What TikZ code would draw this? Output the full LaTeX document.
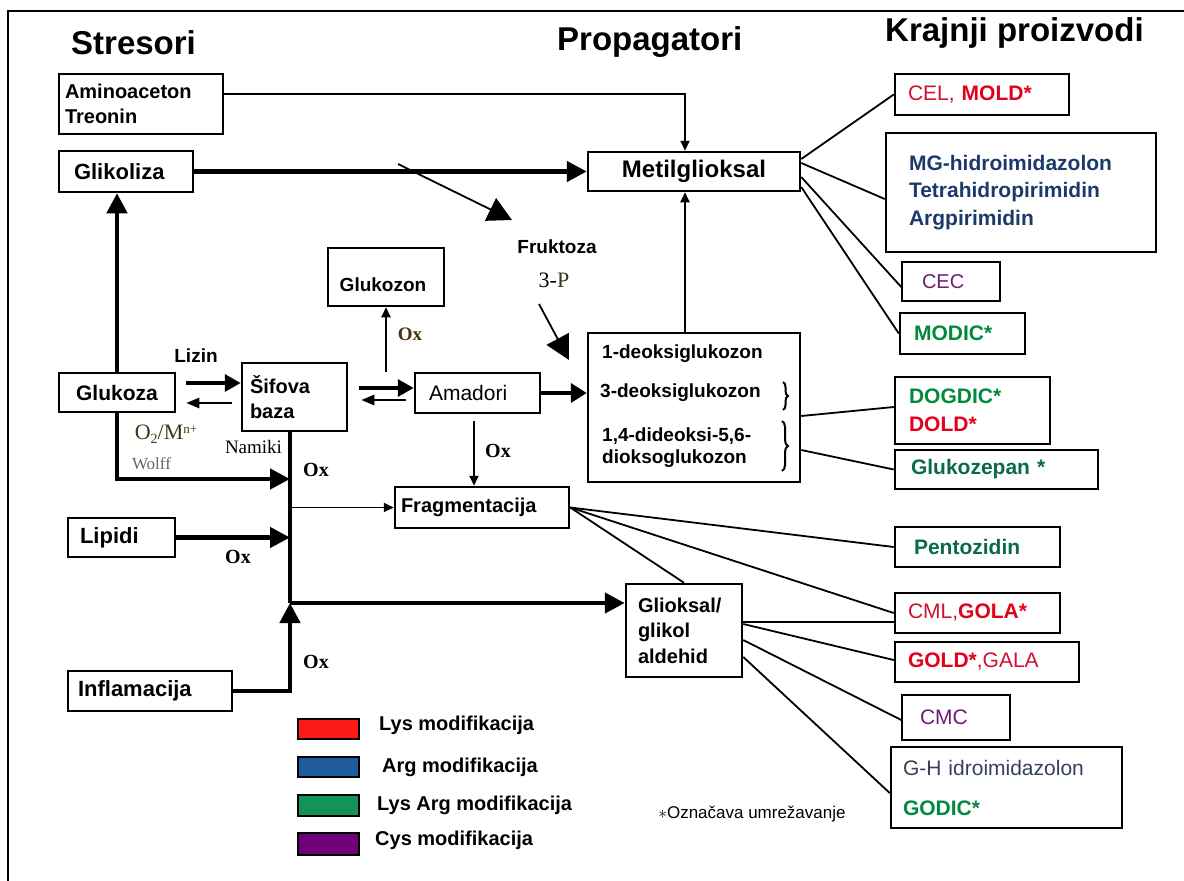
\documentclass[tikz,border=0pt]{standalone}
\usepackage{fontspec}
\setmainfont{Liberation Sans}
\newfontfamily\tnr{Liberation Serif}
\usetikzlibrary{arrows.meta,calc,decorations.pathreplacing}

\definecolor{redB}{HTML}{E2001A}
\definecolor{redR}{HTML}{D0102E}
\definecolor{navyT}{HTML}{1B3A6B}
\definecolor{purpT}{HTML}{6E1E72}
\definecolor{greenB}{HTML}{008A3E}
\definecolor{tealT}{HTML}{0B6A48}
\definecolor{slateT}{HTML}{34405C}
\definecolor{oliveT}{HTML}{3A3A12}
\definecolor{grayT}{HTML}{6A6A55}
\definecolor{brownT}{HTML}{4A3208}
\definecolor{legRed}{HTML}{FF1A1A}
\definecolor{legBlue}{HTML}{1F5A9E}
\definecolor{legGreen}{HTML}{13925A}
\definecolor{legPurple}{HTML}{700078}

\newcommand{\fsz}[2]{\fontsize{#1}{#2}\selectfont}

\begin{document}
\begin{tikzpicture}[x=1pt,y=-1pt,
  hdr/.style={font=\fsz{33}{36}\bfseries, inner sep=0pt, anchor=base west},
  box/.style={draw, line width=2.5pt, fill=white, inner sep=0pt},
  lbox/.style={box, align=left},
  thinbox/.style={box, line width=1.5pt},
  lbl/.style={inner sep=0pt},
  oxl/.style={lbl, font=\tnr\fsz{20}{22}\bfseries},
  thk/.style={line width=4.5pt},
  thn/.style={line width=1.8pt},
  fan/.style={line width=1.8pt},
  bigtip/.style={-{Triangle[length=20pt,width=20pt]}},
  midtip/.style={-{Triangle[length=16pt,width=17pt]}},
  lowtip/.style={-{Triangle[length=13pt,width=10pt]}},
  smtip/.style={-{Triangle[length=10pt,width=9pt]}},
  flagtip/.style={-{Triangle[length=24pt,width=25pt]}},
  legsw/.style={draw, line width=2.5pt, minimum width=61pt, inner sep=0pt},
  legt/.style={lbl, anchor=west, font=\fsz{20}{22}\bfseries}
]
\useasboundingbox (0,0) rectangle (1184,881);
\fill[white] (0,0) rectangle (1184,881);

% outer frame
\draw[line width=2pt] (7.5,881) -- (7.5,11) -- (1184,11);

% column headings
\node[hdr] (hs) at (71,54) {Stresori};
\node[hdr] (hp) at (557,50) {Propagatori};
\node[hdr] (hk) at (885,41) {Krajnji proizvodi};

% stressors
\node[lbox, font=\fsz{20}{25}\bfseries, inner xsep=6pt, text width=152pt, minimum height=60pt] (amin) at (141,104) {Aminoaceton\\Treonin};
\node[lbox, font=\fsz{22}{24}\bfseries, inner xsep=15pt, text width=104pt, minimum height=41pt] (gly) at (126,171.5) {Glikoliza};
\node[box, font=\fsz{21}{24}\bfseries, minimum width=116pt, minimum height=39pt] (glu) at (117,392.5) {Glukoza};
\node[lbox, font=\fsz{22}{24}\bfseries, inner xsep=12pt, text width=83pt, minimum height=39pt] (lip) at (121.5,537.5) {Lipidi};
\node[lbox, font=\fsz{22}{24}\bfseries, inner xsep=10pt, text width=144pt, minimum height=40pt] (inf) at (150,691) {Inflamacija};

% propagators
\node[box, font=\fsz{24}{26}\bfseries, minimum width=212pt, minimum height=39pt] (met) at (694,171.5) {Metilglioksal};
\node[box, minimum width=116pt, minimum height=58pt] (gluz) at (386,277) {};
\node[lbl, font=\fsz{19}{22}\bfseries] (gluzt) at (383,285) {Glukozon};
\node[lbox, font=\fsz{20}{25}\bfseries, inner xsep=8pt, text width=89pt, minimum height=68pt] (sif) at (294.5,397) {Šifova\\baza};
\node[lbox, font=\fsz{21}{24}, inner xsep=14pt, text width=97pt, minimum height=40pt] (ama) at (477.5,393) {Amadori};
\node[box, minimum width=212pt, minimum height=149pt] (deo) at (694,407.5) {};
\node[lbl, anchor=west, font=\fsz{19}{22}\bfseries] (d1) at (602,354) {1-deoksiglukozon};
\node[lbl, anchor=west, font=\fsz{19}{22}\bfseries] (d2) at (600,393) {3-deoksiglukozon};
\node[lbl, anchor=west, font=\fsz{19}{22}\bfseries] (d3) at (602,436) {1,4-dideoksi-5,6-};
\node[lbl, anchor=west, font=\fsz{19}{22}\bfseries] (d4) at (602,459) {dioksoglukozon};
\draw[line width=2pt, decorate, decoration={brace, amplitude=5pt}] (783,382) -- (783,410);
\draw[line width=2pt, decorate, decoration={brace, amplitude=6pt}] (782,421) -- (782,471);
\node[lbox, font=\fsz{20}{24}\bfseries, inner xsep=6pt, text width=162pt, minimum height=41pt] (frg) at (482,507.5) {Fragmentacija};
\node[lbox, font=\fsz{20}{25.5}\bfseries, inner xsep=12pt, text width=92pt, minimum height=93pt] (gls) at (684,630.5) {Glioksal/\\glikol\\aldehid};

% end products
\node[lbox, font=\fsz{21}{24}, inner xsep=13pt, text width=148pt, minimum height=41pt] (cel) at (982,94.5)
  {\color{redR}CEL, \textbf{\color{redB}MOLD*}};
\node[lbox, font=\fsz{21}{27.5}\bfseries, text=navyT, inner xsep=23pt, text width=224pt, minimum height=119pt] (mg) at (1021,192.5)
  {MG-hidroimidazolon\\Tetrahidropirimidin\\Argpirimidin};
\node[thinbox, align=left, font=\fsz{20}{24}, text=purpT, inner xsep=20pt, text width=58pt, minimum height=39pt] (cec) at (951,281.5) {CEC};
\node[lbox, font=\fsz{21}{24}\bfseries, text=greenB, inner xsep=14pt, text width=97pt, minimum height=41pt] (mod) at (962.5,333.5) {MODIC*};
\node[lbox, font=\fsz{21}{28}\bfseries, inner xsep=14pt, text width=127pt, minimum height=67pt] (dog) at (972.5,410.5)
  {\color{greenB}DOGDIC*\\\color{redB}DOLD*};
\node[lbox, font=\fsz{21}{24}\bfseries, text=tealT, inner xsep=16pt, text width=171pt, minimum height=39pt] (gzp) at (996.5,469.5) {Glukozepan *};
\node[lbox, font=\fsz{21}{24}\bfseries, text=tealT, inner xsep=19pt, text width=127pt, minimum height=40pt] (pen) at (977.5,547) {Pentozidin};
\node[lbox, font=\fsz{21}{24}, text=redR, inner xsep=13pt, text width=139pt, minimum height=40pt] (cml) at (977.5,613)
  {CML,\textbf{\color{redB}GOLA*}};
\node[lbox, font=\fsz{21}{24}, text=redR, inner xsep=13pt, text width=158pt, minimum height=40pt] (gold) at (987,662)
  {\textbf{\color{redB}GOLD*},GALA};
\node[thinbox, align=left, font=\fsz{21}{24}, text=purpT, inner xsep=18pt, text width=72pt, minimum height=45pt] (cmc) at (956,717.5) {CMC};
\node[lbox, font=\fsz{21}{40}, inner xsep=12pt, text width=207pt, minimum height=81pt] (gh) at (1006.5,787.5)
  {\color{slateT}G-H idroimidazolon\\\textbf{\color{greenB}GODIC*}};

% labels on the pathways
\node[lbl, font=\fsz{19}{22}\bfseries] (lz) at (196,356) {Lizin};
\node[lbl, font=\tnr\fsz{22}{24}, text=oliveT] (o2) at (166,434)
  {O\raisebox{-4pt}{\fsz{14}{14}2}/M\raisebox{6pt}{\fsz{13}{13}n+}};
\node[lbl, font=\tnr\fsz{17}{20}, text=grayT] (wf) at (151.5,464) {Wolff};
\node[lbl, font=\tnr\fsz{19}{22}] (nm) at (253.5,447) {Namiki};
\node[oxl, font=\tnr\fsz{19}{22}\bfseries, text=brownT] (ox1) at (410,334) {Ox};
\node[oxl] (ox2) at (498,451) {Ox};
\node[oxl] (ox3) at (316,470) {Ox};
\node[oxl] (ox4) at (238,557) {Ox};
\node[oxl] (ox5) at (316,662) {Ox};
\node[lbl, font=\fsz{19}{22}\bfseries] (fr) at (557,247) {Fruktoza};
\node[lbl, font=\tnr\fsz{22}{24}] (tp) at (554,280) {3-{\color{oliveT}P}};
\node[lbl, font=\fsz{17}{20}] (oz) at (752,814) {$\ast$Označava umrežavanje};

% junction points on the oxidative trunk
\coordinate (j) at (290,603);
\coordinate (wj) at (290,479);
\coordinate (fa) at (398,164);
\coordinate (fb) at (512,220);
\coordinate (fc) at (539,304);
\coordinate (fd) at (569,360);

% connectors
\draw[thn, smtip] ([yshift=10pt]amin.east) -| ([xshift=-9pt]met.north);
\draw[thk, bigtip] (gly.east) -- (met.west);
\draw[thk, bigtip] (glu.north) -- (glu.north |- gly.south);
\draw[thn, flagtip] (fa) -- (fb);
\draw[thn, flagtip] (fc) -- (fd);
\draw[line width=3.5pt, midtip] ([xshift=10pt,yshift=9.5pt]glu.east) -- ([yshift=14pt]sif.west);
\draw[line width=2.5pt, lowtip] ([xshift=-9pt,yshift=-6pt]sif.west) -- ([xshift=10pt,yshift=-10.5pt]glu.east);
\draw[line width=3.5pt, midtip] ([xshift=11pt,yshift=9pt]sif.east) -- ([yshift=5pt]ama.west);
\draw[line width=2.5pt, lowtip] ([xshift=-8pt,yshift=-7pt]ama.west) -- ([xshift=13pt,yshift=-3pt]sif.east);
\draw[thn, smtip] (gluz.south |- ama.north) -- (gluz.south);
\draw[thk, -{Triangle[length=16pt,width=19pt]}] (ama.east) -- (ama.east -| deo.west);
\draw[thn, smtip] ([xshift=-3.5pt,yshift=-7pt]ama.south) -- ([xshift=-3.5pt]ama.south |- frg.north);
\draw[thn, smtip] ([xshift=-9pt]deo.north) -- ([xshift=-9pt]met.south);

\draw[thk] ([xshift=-4.5pt]sif.south) -- (j);
\draw[thk, bigtip] (j) -- (j -| gls.west);
\draw[thk, bigtip] (glu.south) |- (wj);
\draw[thk, bigtip] (lip.east) -- (lip.east -| j);
\draw[thk, bigtip] (inf.east) -| (j);
\draw[thn, smtip] (frg.west -| j) -- (frg.west);

% links to the end products
\draw[fan] ([yshift=12.5pt]met.east) -- (cel.west);
\draw[fan] ([yshift=8.5pt]met.east) -- ([yshift=-6.5pt]mg.west);
\draw[fan] ([yshift=-5.5pt]met.east) -- ([yshift=-5.5pt]cec.west);
\draw[fan] ([yshift=-15.5pt]met.east) -- (mod.west);
\draw[fan] ([yshift=-8.5pt]deo.east) -- ([yshift=3.5pt]dog.west);
\draw[fan] ([yshift=-42.5pt]deo.east) -- (gzp.west);
\draw[fan] (frg.east) -- (pen.west);
\draw[fan] (frg.east) -- (cml.west);
\draw[fan] (frg.east) -- (gls.north);
\draw[fan] ([yshift=8.5pt]gls.east) -- ([yshift=-9pt]cml.west);
\draw[fan] ([yshift=6.5pt]gls.east) -- ([yshift=2pt]gold.west);
\draw[fan] ([yshift=-9.5pt]gls.east) -- ([yshift=-2.5pt]cmc.west);
\draw[fan] ([yshift=-26.5pt]gls.east) -- ([yshift=-5.5pt]gh.west);

% legend
\node[legsw, fill=legRed, minimum height=20pt] (k1) at (328.5,729) {};
\node[legsw, fill=legBlue, minimum height=20pt] (k2) at (328.5,767) {};
\node[legsw, fill=legGreen, minimum height=21pt] (k3) at (328.5,805.5) {};
\node[legsw, fill=legPurple, minimum height=22pt] (k4) at (328.5,844) {};
\node[legt] (k1t) at (379,725) {Lys modifikacija};
\node[legt] (k2t) at (382,767) {Arg modifikacija};
\node[legt] (k3t) at (377,805) {Lys Arg modifikacija};
\node[legt] (k4t) at (375,840) {Cys modifikacija};
\end{tikzpicture}
\end{document}
